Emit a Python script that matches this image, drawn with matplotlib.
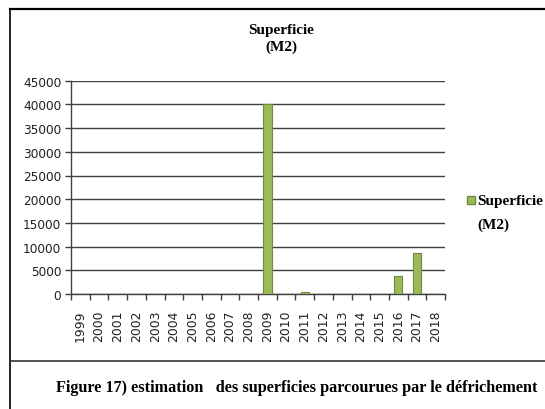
import numpy as np
import matplotlib.pyplot as plt
from matplotlib.lines import Line2D

# data
years = [str(y) for y in range(1999, 2019)]
superficie = [0, 0, 0, 0, 0, 0, 0, 0, 0, 0, 40000, 0, 400, 0, 0, 0, 0, 3800, 8700, 0]
y_ticks = [0, 5000, 10000, 15000, 20000, 25000, 30000, 35000, 40000, 45000]

serif = 'Liberation Serif'
green = '#9bbb59'
edge = '#71893f'
grey = '#404040'

fig = plt.figure(figsize=(5.45, 4.1), dpi=100)
ax = fig.add_axes([71/545, 1 - 295/410, (445 - 71)/545, (295 - 81.7)/410])

x = np.arange(len(years))
ax.bar(x, superficie, width=0.45, color=green, edgecolor=edge, linewidth=0.8, zorder=3)

ax.set_xlim(-0.5, len(years) - 0.5)
ax.set_ylim(0, 45000)
ax.set_yticks(y_ticks)
ax.set_yticklabels([str(v) for v in y_ticks], fontsize=8.7, color='#202020')
ax.set_xticks(x)
ax.set_xticklabels(years, rotation=90, fontsize=8.9, color='#202020')
ax.tick_params(axis='x', length=0, pad=11)
ax.set_xticks(np.arange(len(years) + 1) - 0.5, minor=True)
ax.tick_params(axis='x', which='minor', length=4, color=grey, width=1)
ax.tick_params(axis='y', length=4, color=grey, width=1, pad=3)

ax.grid(axis='y', color=grey, linewidth=1, zorder=0)
for s in ['top', 'right']:
    ax.spines[s].set_visible(False)
for s in ['left', 'bottom']:
    ax.spines[s].set_color(grey)
    ax.spines[s].set_linewidth(1)

# title
fig.text(281/545, 1 - 39/410, 'Superficie\n(M2)', ha='center', va='center',
         fontsize=11, fontweight='bold', family=serif, linespacing=1.35)

# legend
fig.add_artist(Line2D([471/545], [1 - 201/410], marker='s', markersize=6,
                      color=green, markeredgecolor=edge, linestyle='none'))
fig.text(477/545, 1 - 213.5/410, 'Superficie\n(M2)', ha='left', va='center',
         fontsize=11, fontweight='bold', family=serif, linespacing=1.95)

# frame lines
fig.add_artist(Line2D([10/545, 1], [1 - 10/410, 1 - 10/410], color='black', linewidth=1.6))
fig.add_artist(Line2D([10/545, 10/545], [0, 1 - 10/410], color='black', linewidth=1.2))
fig.add_artist(Line2D([10/545, 1], [1 - 362/410, 1 - 362/410], color='#333333', linewidth=1.2))

# caption
fig.text(297/545, 1 - 388/410,
         'Figure 17) estimation   des superficies parcourues par le défrichement',
         ha='center', va='center', fontsize=11.7, fontweight='bold', family=serif)

fig.savefig('out.png', dpi=100)
